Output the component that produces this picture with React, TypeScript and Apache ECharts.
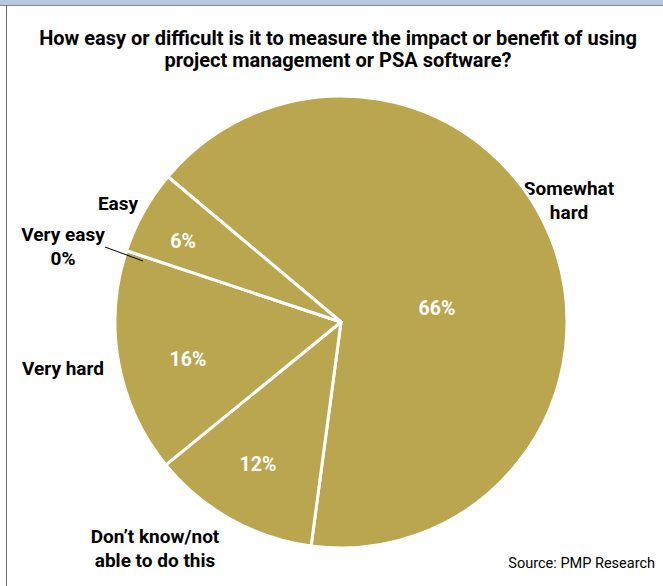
import React, { useEffect, useRef } from "react";
import * as echarts from "echarts";

const titleLines = [
  "How easy or difficult is it to measure the impact or benefit of using",
  "project management or PSA software?",
];
const categories = ["Somewhat hard", "Don\u2019t know/not able to do this", "Very hard", "Very easy", "Easy"];
const values = [66, 12, 16, 0, 6];
const sourceText = "Source: PMP Research";

// label layout (not data)
const innerLabelPos: ([number, number] | null)[] = [
  [437, 308],
  [258, 464],
  [188, 359],
  null,
  [183, 241],
];
const outerLabels: { lines: string[]; x: number; y: number }[] = [
  { lines: ["Somewhat", "hard"], x: 569, y: 188 },
  { lines: ["Don\u2019t know/not", "able to do this"], x: 155, y: 536 },
  { lines: ["Very hard"], x: 63, y: 368 },
  { lines: ["Very easy", "0%"], x: 63, y: 234 },
  { lines: ["Easy"], x: 118, y: 203 },
];

const FONT = "Roboto, 'Liberation Sans', Arial, sans-serif";
const PIE_COLOR = "#bba650";

export default function App() {
  const ref = useRef<HTMLDivElement>(null);
  useEffect(() => {
    if (!ref.current) return;
    const chart = echarts.init(ref.current, null, { renderer: "svg" });
    const graphics: any[] = [];
    titleLines.forEach((t, i) => {
      graphics.push({
        type: "text",
        x: 338,
        y: 38 + i * 22,
        style: {
          text: t,
          font: `bold 20px ${FONT}`,
          fill: "#000",
          align: "center",
          verticalAlign: "middle",
        },
      });
    });
    outerLabels.forEach((o) => {
      graphics.push({
        type: "text",
        x: o.x,
        y: o.y - 12,
        style: {
          text: o.lines.join("\n"),
          font: `bold 19px ${FONT}`,
          lineHeight: 24,
          fill: "#000",
          align: "center",
          verticalAlign: "top",
        },
      });
    });
    graphics.push({
      type: "text",
      x: 655,
      y: 563,
      style: {
        text: sourceText,
        font: `14.5px ${FONT}`,
        fill: "#000",
        align: "right",
        verticalAlign: "middle",
      },
    });
    // leader line for Very easy
    graphics.push({
      type: "line",
      shape: { x1: 105, y1: 247, x2: 143, y2: 261 },
      style: { stroke: "#000", lineWidth: 1 },
      z: 10,
    });
    // frame
    graphics.push({
      type: "rect",
      shape: { x: 0, y: 0, width: 663, height: 5 },
      style: { fill: "#b7c7e3" },
    });
    graphics.push({
      type: "line",
      shape: { x1: 0, y1: 5.5, x2: 663, y2: 5.5 },
      style: { stroke: "#8a8a8a", lineWidth: 1 },
    });
    graphics.push({
      type: "line",
      shape: { x1: 6.5, y1: 5, x2: 6.5, y2: 586 },
      style: { stroke: "#6a6a6a", lineWidth: 1 },
    });

    chart.setOption({
      animation: false,
      backgroundColor: "#fff",
      graphic: graphics,
      series: [
        {
          type: "pie",
          center: [341, 322],
          radius: [0, 226],
          startAngle: 140,
          clockwise: true,
          minShowLabelAngle: 0,
          stillShowZeroSum: true,
          avoidLabelOverlap: false,
          itemStyle: { color: PIE_COLOR, borderColor: "#fff", borderWidth: 3 },
          label: {
            show: true,
            position: "inside",
            formatter: "{c}%",
            color: "#fff",
            fontFamily: FONT,
            fontWeight: "bold",
            fontSize: 19.5,
          },
          labelLine: { show: false },
          emphasis: { disabled: true },
          labelLayout: (p: any) => {
            const pos = innerLabelPos[p.dataIndex];
            if (!pos) return { x: -100, y: -100 };
            return { x: pos[0], y: pos[1], align: "center", verticalAlign: "middle" };
          },
          data: categories.map((c, i) => ({
            name: c,
            value: values[i],
            label: { show: innerLabelPos[i] !== null },
          })),
        },
      ],
    });
    return () => chart.dispose();
  }, []);
  return (
    <div
      ref={ref}
      style={{ position: "fixed", left: 0, top: 0, width: 663, height: 586 }}
    />
  );
}
